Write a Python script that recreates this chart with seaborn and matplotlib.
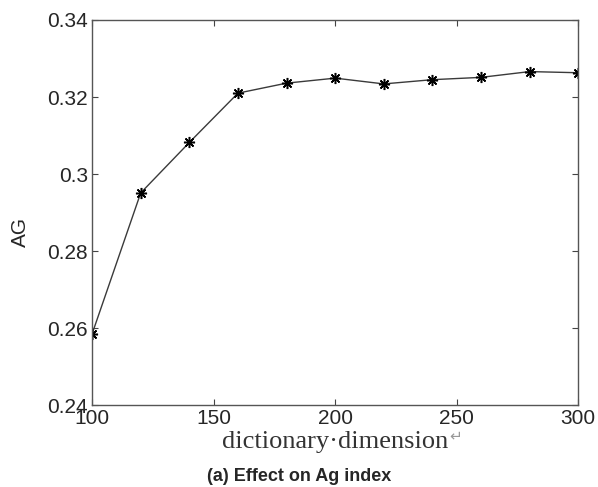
import matplotlib
matplotlib.use('Agg')
import matplotlib.pyplot as plt
import pandas as pd
import seaborn as sns

sns.set_style('ticks')
plt.rcParams['font.family'] = ['Liberation Sans', 'DejaVu Sans']

# dictionary dimension vs AG
dims = [100, 120, 140, 160, 180, 200, 220, 240, 260, 280, 300]
ag = [0.2585, 0.2951, 0.3082, 0.3210, 0.3236, 0.3249, 0.3234, 0.3245, 0.3251, 0.3266, 0.3263]
xticks = [100, 150, 200, 250, 300]
yticks = [0.24, 0.26, 0.28, 0.30, 0.32, 0.34]
ytick_labels = ['0.24', '0.26', '0.28', '0.3', '0.32', '0.34']

df = pd.DataFrame({'dim': dims, 'AG': ag})

fig = plt.figure(figsize=(5.98, 4.87), dpi=100)
ax = fig.add_axes([0.154, 0.168, 0.813, 0.791])

# matlab style '*' marker (plus and cross on top of each other)
sns.lineplot(data=df, x='dim', y='AG', ax=ax, color='#3a3a3a', linewidth=1.0,
             marker=(8, 2, 0), markersize=8, markeredgewidth=1.1,
             markeredgecolor='black')

ax.set_xlim(100, 300)
ax.set_ylim(0.24, 0.34)
ax.set_xticks(xticks)
ax.set_yticks(yticks)
ax.set_yticklabels(ytick_labels)
ax.tick_params(direction='in', top=True, right=True, labelsize=15, length=4,
               color='#444444', pad=3)
for s in ax.spines.values():
    s.set_color('#555555')
    s.set_linewidth(1.0)

ax.set_ylabel('AG', fontsize=15)
ax.yaxis.set_label_coords(-0.128, 0.45)
ax.set_xlabel('dictionary\u00b7dimension', fontsize=19,
              family=['Liberation Serif', 'DejaVu Serif'], color='#333333')
ax.xaxis.set_label_coords(0.5, -0.068)
fig.text(0.752, 0.103, '\u21b5', fontsize=11, color='#999999', ha='left', va='center')
fig.text(0.5, 0.022, '(a) Effect on Ag index', ha='center', va='center',
         fontsize=13, fontweight='bold')

fig.savefig('out.png', dpi=100)
